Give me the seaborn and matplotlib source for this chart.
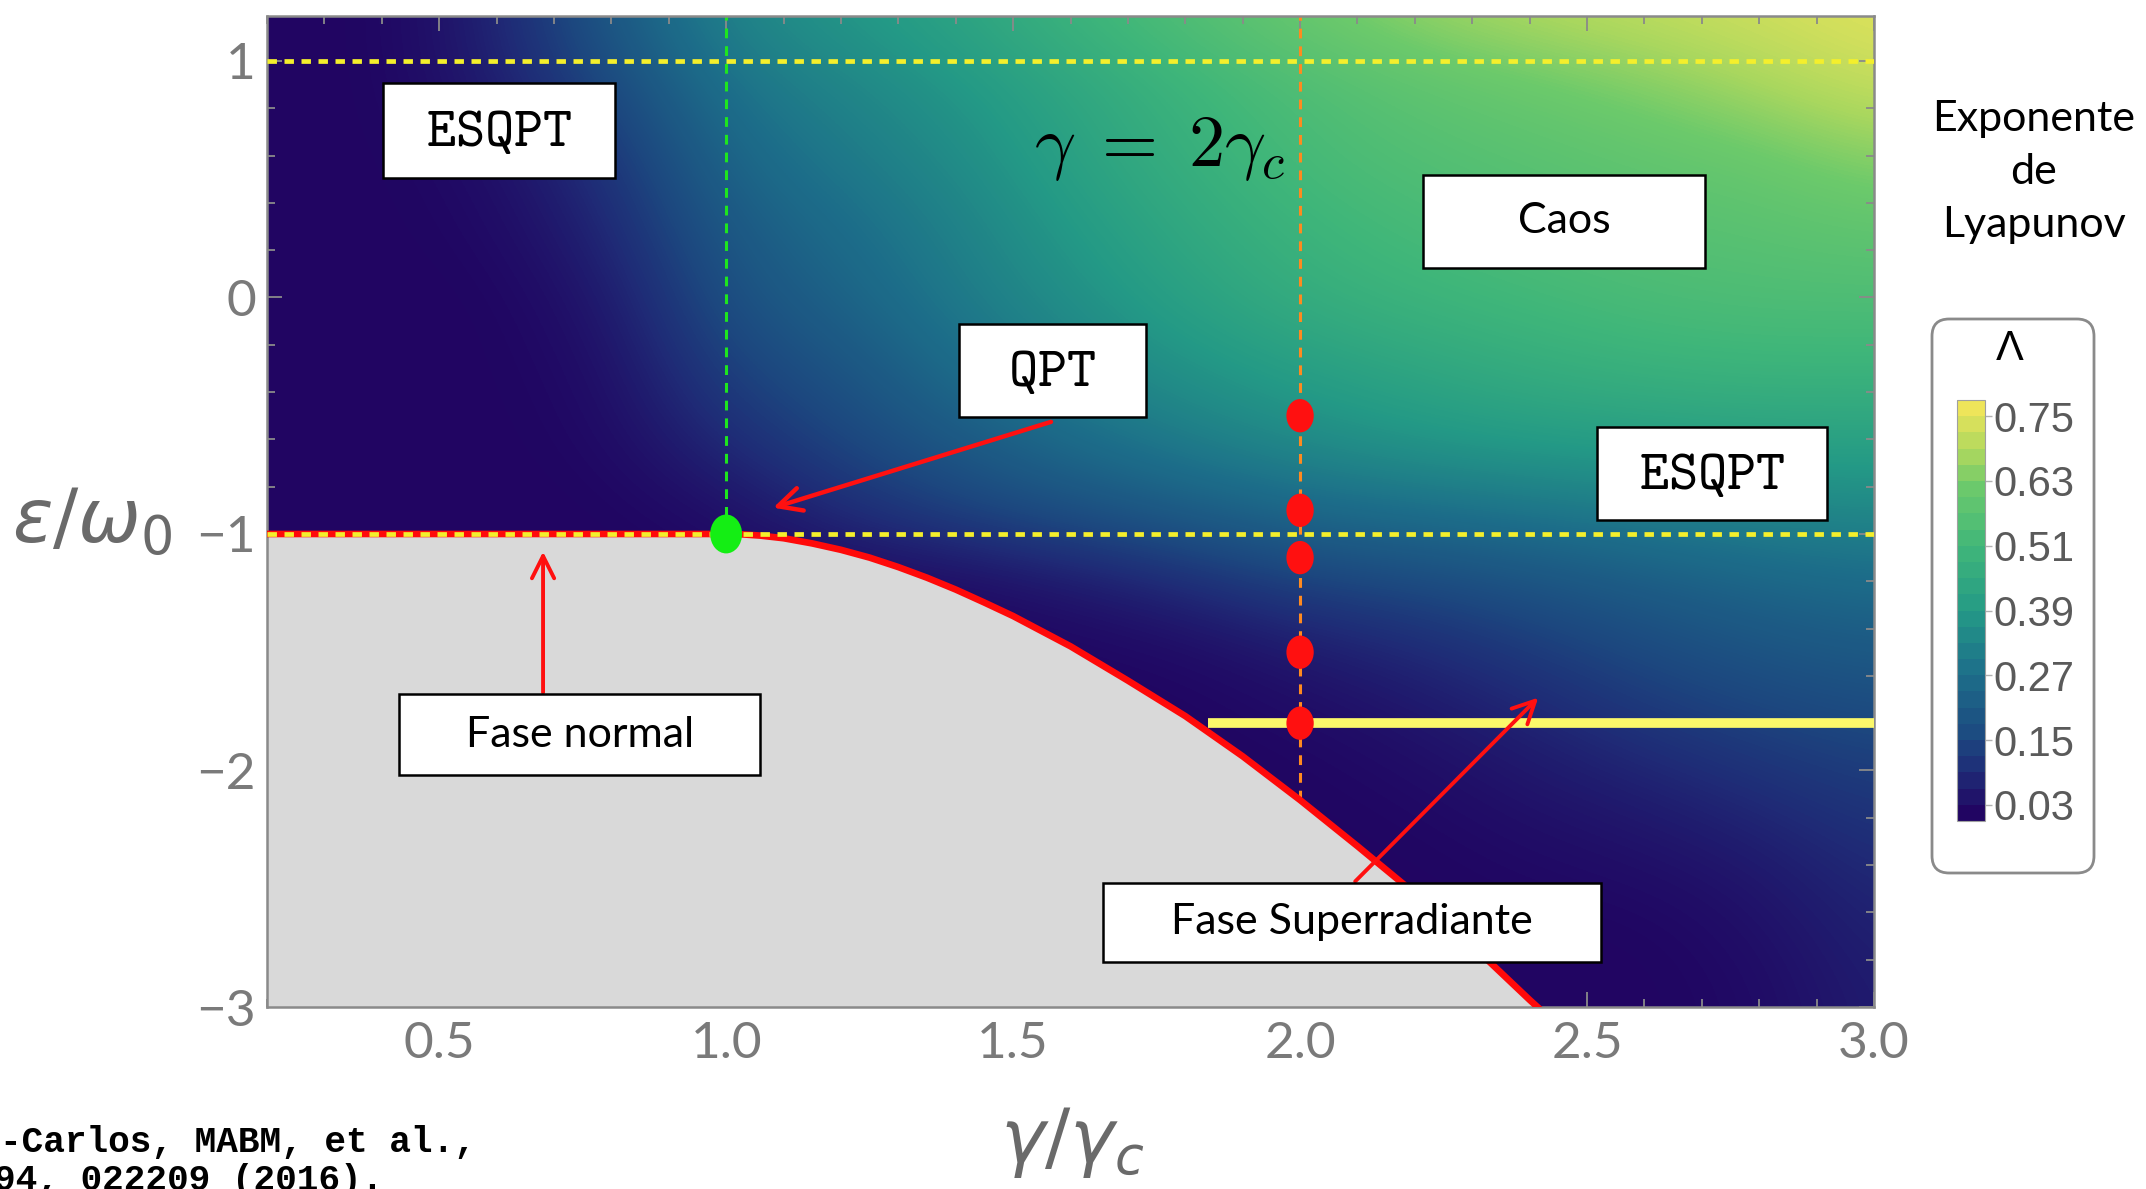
import numpy as np
import matplotlib
matplotlib.use('Agg')
import matplotlib.pyplot as plt
import seaborn as sns
from matplotlib.colors import LinearSegmentedColormap, Normalize
from matplotlib.cm import ScalarMappable
from matplotlib.patches import Rectangle, FancyBboxPatch
from matplotlib.path import Path
from matplotlib.transforms import Affine2D
from matplotlib.ticker import MultipleLocator

# --- data ---
gamma_grid = [0.2, 0.4, 0.6, 0.8, 1.0, 1.2, 1.4, 1.6, 1.8, 2.0, 2.2, 2.4, 2.6, 2.8, 3.0]
energy_grid = [1.2, 0.9, 0.6, 0.3, 0.0, -0.3, -0.6, -0.9, -1.2, -1.5, -1.8, -2.1, -2.4, -2.7, -3.0]

# Lyapunov exponent, one row per energy (top to bottom), one column per gamma
lyap_rows = [
    [0.00, 0.00, 0.06, 0.20, 0.33, 0.38, 0.43, 0.50, 0.56, 0.62, 0.67, 0.70, 0.72, 0.74, 0.76],
    [0.00, 0.00, 0.05, 0.15, 0.28, 0.33, 0.38, 0.44, 0.50, 0.55, 0.59, 0.62, 0.65, 0.69, 0.73],
    [0.00, 0.00, 0.02, 0.10, 0.24, 0.30, 0.35, 0.42, 0.48, 0.53, 0.56, 0.58, 0.60, 0.62, 0.66],
    [0.00, 0.00, 0.01, 0.07, 0.20, 0.26, 0.32, 0.39, 0.45, 0.50, 0.53, 0.55, 0.57, 0.58, 0.60],
    [0.00, 0.00, 0.00, 0.04, 0.17, 0.23, 0.30, 0.36, 0.42, 0.47, 0.50, 0.52, 0.54, 0.55, 0.55],
    [0.00, 0.00, 0.00, 0.02, 0.13, 0.18, 0.26, 0.32, 0.37, 0.41, 0.44, 0.47, 0.49, 0.50, 0.50],
    [0.00, 0.00, 0.00, 0.01, 0.08, 0.14, 0.20, 0.26, 0.31, 0.35, 0.38, 0.40, 0.41, 0.42, 0.42],
    [0.00, 0.00, 0.00, 0.00, 0.02, 0.08, 0.13, 0.17, 0.21, 0.25, 0.27, 0.29, 0.31, 0.33, 0.34],
    [0.00, 0.00, 0.00, 0.00, 0.00, 0.00, 0.01, 0.04, 0.08, 0.13, 0.15, 0.18, 0.21, 0.24, 0.26],
    [0.00, 0.00, 0.00, 0.00, 0.00, 0.00, 0.00, 0.00, 0.01, 0.04, 0.07, 0.11, 0.15, 0.18, 0.20],
    [0.00, 0.00, 0.00, 0.00, 0.00, 0.00, 0.00, 0.00, 0.00, 0.01, 0.03, 0.06, 0.10, 0.13, 0.15],
    [0.00, 0.00, 0.00, 0.00, 0.00, 0.00, 0.00, 0.00, 0.00, 0.00, 0.01, 0.03, 0.05, 0.08, 0.11],
    [0.00, 0.00, 0.00, 0.00, 0.00, 0.00, 0.00, 0.00, 0.00, 0.00, 0.00, 0.01, 0.02, 0.04, 0.08],
    [0.00, 0.00, 0.00, 0.00, 0.00, 0.00, 0.00, 0.00, 0.00, 0.00, 0.00, 0.00, 0.00, 0.02, 0.06],
    [0.00, 0.00, 0.00, 0.00, 0.00, 0.00, 0.00, 0.00, 0.00, 0.00, 0.00, 0.00, 0.00, 0.01, 0.05],
]

# ground-state energy (edge of the grey region)
boundary_gamma = [0.2, 1.0, 1.03, 1.06, 1.1, 1.15, 1.2, 1.25, 1.3, 1.35, 1.4, 1.45, 1.5,
                  1.6, 1.7, 1.8, 1.9, 2.0, 2.1, 2.2, 2.3, 2.4, 2.45]
boundary_energy = [-1.0, -1.0, -1.002, -1.007, -1.018, -1.04, -1.067, -1.10, -1.14, -1.185,
                   -1.235, -1.29, -1.347, -1.475, -1.62, -1.77, -1.94, -2.125, -2.32,
                   -2.52, -2.74, -2.97, -3.08]

esqpt_levels = [1.0, -1.0]
qpt_gamma, qpt_energy = 1.0, -1.0
sample_gamma = 2.0
sample_energies = [-0.5, -0.9, -1.1, -1.5, -1.8]
cut_energy = -1.8
cut_gamma = [1.84, 3.0]

cbar_ticks = [0.03, 0.15, 0.27, 0.39, 0.51, 0.63, 0.75]
lyap_max = 0.78

# --- style ---
sns.set_theme(style='white')
plt.rcParams['font.family'] = ['Lato', 'DejaVu Sans']

cmap_stops = [(0.00, '#210562'), (0.08, '#1f2c77'), (0.15, '#1c4a80'), (0.27, '#1d6f8a'),
              (0.39, '#249a86'), (0.51, '#3fb67a'), (0.63, '#6dca6b'), (0.69, '#a8d75f'),
              (0.78, '#eee55a')]
lyap_cmap = LinearSegmentedColormap.from_list(
    'lyap', [(v / lyap_max, c) for v, c in cmap_stops])

W, H = 2146, 1189
fig = plt.figure(figsize=(W / 100, H / 100), dpi=100)
ax = fig.add_axes([267 / W, 1 - 1007 / H, (1874 - 267) / W, (1007 - 16) / H])

dx = gamma_grid[1] - gamma_grid[0]
dy = energy_grid[0] - energy_grid[1]
ax.imshow(np.array(lyap_rows), cmap=lyap_cmap, vmin=0, vmax=lyap_max,
          interpolation='bicubic', aspect='auto', origin='upper', zorder=0,
          extent=[gamma_grid[0] - dx / 2, gamma_grid[-1] + dx / 2,
                  energy_grid[-1] - dy / 2, energy_grid[0] + dy / 2])

ax.fill_between(boundary_gamma, boundary_energy, -3.2, color='#d9d9d9', lw=0, zorder=1)

# guide lines
ax.vlines(qpt_gamma, qpt_energy, 1.3, color='#1ee61e', lw=2.2,
          linestyle=(0, (3.2, 2.6)), zorder=2)
ax.vlines(sample_gamma, np.interp(sample_gamma, boundary_gamma, boundary_energy), 1.3,
          color='#ff8a1f', lw=2.2, linestyle=(0, (3.2, 2.6)), zorder=2)
sns.lineplot(x=boundary_gamma, y=boundary_energy, ax=ax, color='#ff0a0a', lw=4.8,
             sort=False, zorder=3)
for lev in esqpt_levels:
    ax.axhline(lev, color='#f4ef2c', lw=3.4, linestyle=(0, (2.0, 1.6)), zorder=4)
ax.hlines(cut_energy, cut_gamma[0], cut_gamma[1], color='#fbf86a', lw=7, zorder=4)

ellipse = Path.unit_circle().transformed(Affine2D().scale(0.82, 1.0))
sns.scatterplot(x=[sample_gamma] * len(sample_energies), y=sample_energies, ax=ax,
                marker=ellipse, s=24 ** 2, color='#ff1010', edgecolor='none', zorder=5)
sns.scatterplot(x=[qpt_gamma], y=[qpt_energy], ax=ax, marker=ellipse, s=28 ** 2,
                color='#14ee14', edgecolor='none', zorder=6)

# arrows
arrow_kw = dict(arrowstyle='->', color='#ff1010', shrinkA=0, shrinkB=0)
ax.annotate('', xy=(1.082, -0.889), xytext=(1.566, -0.526),
            arrowprops=dict(lw=3.2, mutation_scale=42, **arrow_kw), zorder=7)
ax.annotate('', xy=(0.681, -1.075), xytext=(0.681, -1.671),
            arrowprops=dict(lw=2.8, mutation_scale=40, **arrow_kw), zorder=7)
ax.annotate('', xy=(2.415, -1.692), xytext=(2.096, -2.469),
            arrowprops=dict(lw=2.8, mutation_scale=40, **arrow_kw), zorder=7)


def label_box(cx, cy, w, h, text, **font):
    ax.add_patch(Rectangle((cx - w / 2, cy - h / 2), w, h, facecolor='white',
                           edgecolor='black', lw=1.8, zorder=8))
    ax.text(cx, cy, text, ha='center', va='center', color='black', zorder=9, **font)


mono = dict(math_fontfamily='cm', fontsize=40)
sans = dict(family='Lato', fontsize=31)
label_box(0.604, 0.707, 0.404, 0.401, r'$\mathtt{ESQPT}$', **mono)
label_box(1.568, -0.307, 0.326, 0.393, r'$\mathtt{QPT}$', **mono)
label_box(2.718, -0.746, 0.401, 0.393, r'$\mathtt{ESQPT}$', **mono)
label_box(2.46, 0.323, 0.49, 0.393, 'Caos', **sans)
label_box(0.745, -1.848, 0.629, 0.342, 'Fase normal', **sans)
label_box(2.09, -2.642, 0.868, 0.334, 'Fase Superradiante', **sans)
ax.text(1.755, 0.627, r'$\gamma\;=\;2\gamma_c$', math_fontfamily='cm', fontsize=52,
        ha='center', va='center', color='black', zorder=9)

# axes
ax.set_xlim(0.2, 3.0)
ax.set_ylim(-3.0, 1.19)
ax.set_xticks([0.5, 1.0, 1.5, 2.0, 2.5, 3.0])
ax.set_xticklabels(['0.5', '1.0', '1.5', '2.0', '2.5', '3.0'])
ax.set_yticks([-3, -2, -1, 0, 1])
ax.xaxis.set_minor_locator(MultipleLocator(0.1))
ax.yaxis.set_minor_locator(MultipleLocator(0.2))
ax.tick_params(which='both', direction='in', top=True, right=True, bottom=True, left=True,
               color='#8a8a8a', width=1.3)
ax.tick_params(which='major', length=11, labelsize=37, labelcolor='#7a7a7a')
ax.tick_params(which='minor', length=6)
ax.tick_params(axis='x', pad=10)
ax.tick_params(axis='y', pad=8)
for sp in ax.spines.values():
    sp.set_color('#8a8a8a')
    sp.set_linewidth(1.8)

fig.text(12 / W, 1 - 543 / H, r'$\epsilon/\omega_0$', math_fontfamily='dejavusans',
         fontsize=54, color='#6a6a6a', ha='left', va='baseline')
fig.text(1072 / W, 1 - 1143 / H, r'$\gamma/\gamma_c$', math_fontfamily='dejavusans',
         fontsize=54, color='#6a6a6a', ha='center', va='center')

# citation (cut by the page edge, as in the source slide)
fig.text(0, 1 - 1125 / H, '-Carlos, MABM, et al.,', family='Liberation Mono',
         weight='bold', fontsize=26, va='top', color='black')
fig.text(-6 / W, 1 - 1163 / H, '94, 022209 (2016).', family='Liberation Mono',
         weight='bold', fontsize=26, va='top', color='black')

# legend block
fig.text(2034 / W, 1 - 172 / H, 'Exponente\nde\nLyapunov', family='Lato', fontsize=31,
         ha='center', va='center', linespacing=1.5, color='black')
fig.add_artist(FancyBboxPatch((1932 / W, 1 - 873 / H), (2094 - 1932) / W, (873 - 319) / H,
                              boxstyle='round,pad=0,rounding_size=0.008',
                              mutation_aspect=W / H, transform=fig.transFigure,
                              facecolor='white', edgecolor='#8a8a8a', lw=2, zorder=-1))
fig.text(2010 / W, 1 - 349 / H, 'Λ', family='Liberation Sans', fontsize=30,
         ha='center', va='center', color='black')
cax = fig.add_axes([1957 / W, 1 - 821 / H, 28 / W, 421 / H])
sm = ScalarMappable(norm=Normalize(0, lyap_max), cmap=lyap_cmap.resampled(26))
cb = fig.colorbar(sm, cax=cax, ticks=cbar_ticks)
cb.ax.set_yticklabels([f'{t:.2f}' for t in cbar_ticks])
cb.ax.tick_params(length=5, width=1, color='#b0b0b0', labelsize=30, labelcolor='#5a5a5a', pad=1)
for lab in cb.ax.get_yticklabels():
    lab.set_family('Liberation Sans')
cb.outline.set_edgecolor('#a0a0a0')
cb.outline.set_linewidth(0.8)

fig.savefig('out.png', dpi=100)
